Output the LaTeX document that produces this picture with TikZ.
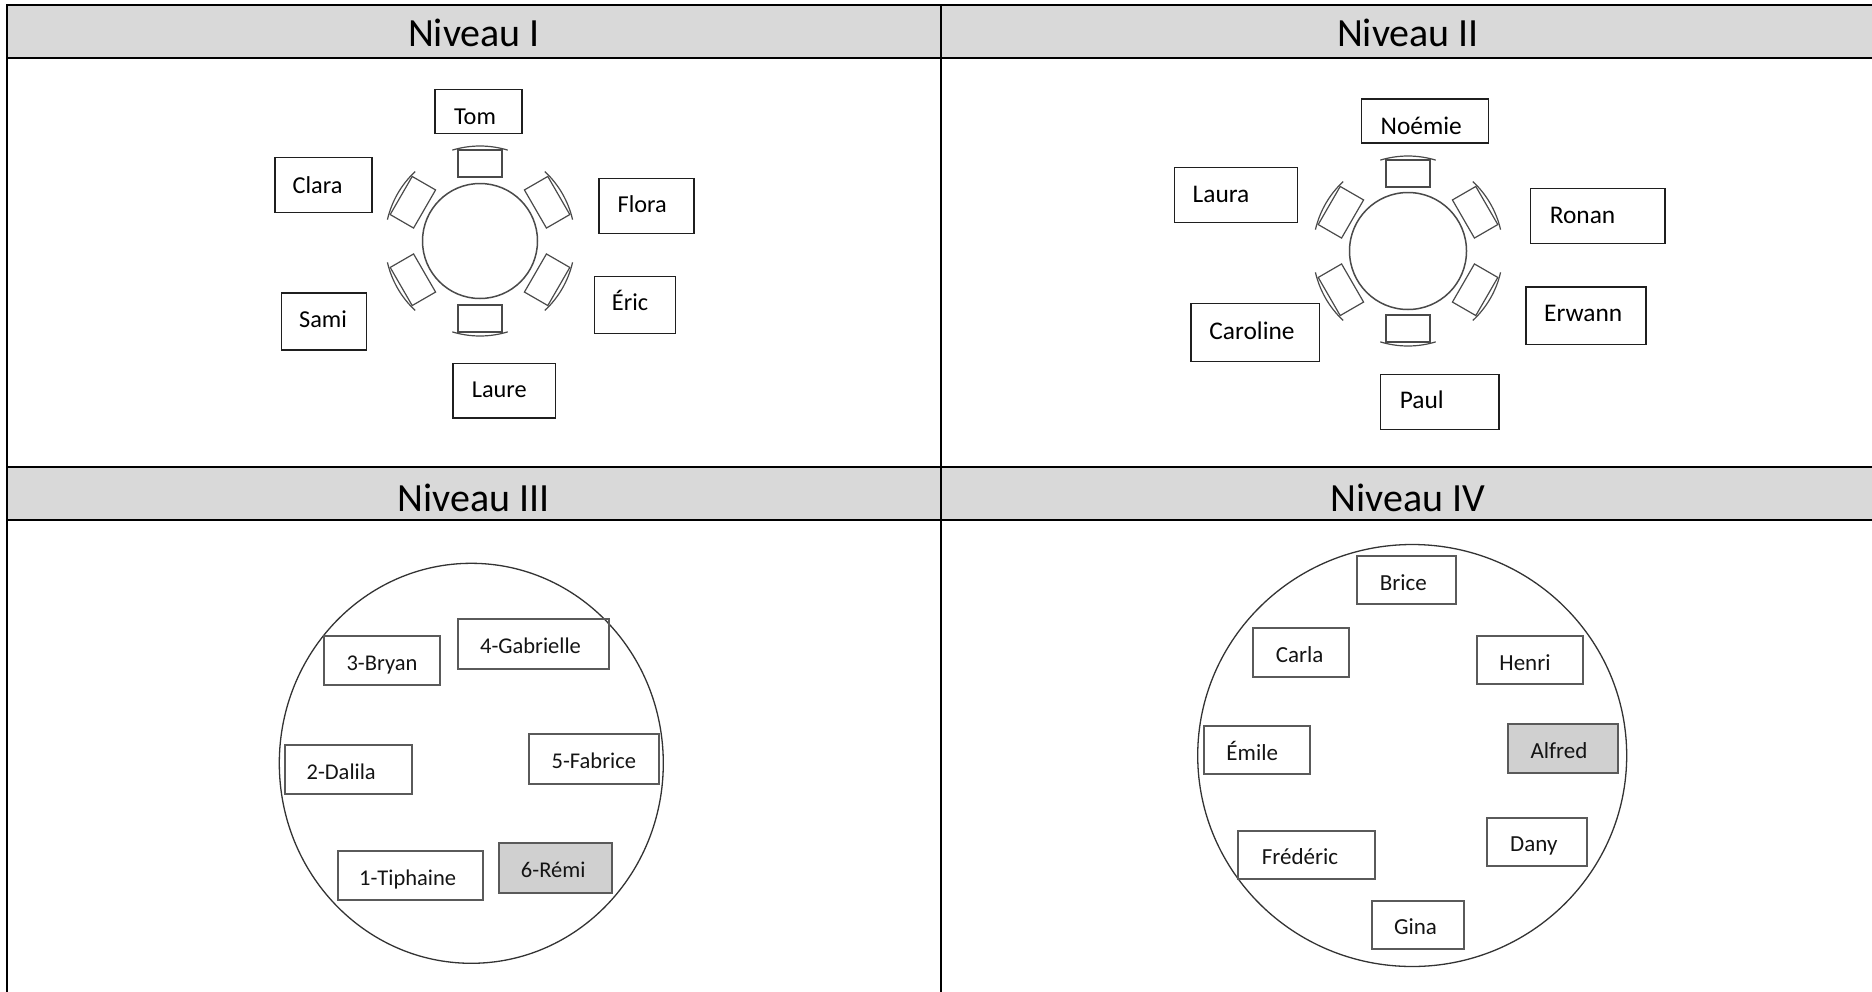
\documentclass[tikz,border=0pt]{standalone}
\usepackage{fontspec}
\setmainfont{Carlito}
\usetikzlibrary{shapes.geometric}
\definecolor{hdrgray}{HTML}{D9D9D9}
\definecolor{remgray}{HTML}{D0D0D0}
\definecolor{chairgray}{HTML}{4A4A4A}
\definecolor{boxgray}{HTML}{5A5A5A}
\tikzset{
  hdr/.style={font=\fontsize{40}{48}\selectfont, anchor=base, inner sep=0pt},
  tline/.style={line width=2pt, black},
  boxA/.style={draw=black!88, line width=1.3pt, inner sep=0pt, rectangle},
  boxB/.style={draw=boxgray, line width=1.9pt, inner sep=0pt, rectangle},
  boxhl/.style={boxB, fill=remgray},
  txtA/.style={font=\fontsize{24.3}{28}\selectfont, anchor=base, inner sep=0pt},
  txtAA/.style={font=\fontsize{25.4}{29}\selectfont, anchor=base, inner sep=0pt},
  txtB/.style={font=\fontsize{22.5}{27}\selectfont, anchor=base, inner sep=0pt, text=black!92},
  txtC/.style={font=\fontsize{23}{27}\selectfont, anchor=base, inner sep=0pt, text=black!92},
  tabletop/.style={circle, draw=chairgray, line width=1.5pt, inner sep=0pt},
  bigring/.style={draw=black!80, line width=1.3pt},
  chair/.pic={
    \draw[chairgray, line width=1.2pt] (64,-22) rectangle (91,22);
    \draw[chairgray, line width=1.2pt] (0,0) ++(-17:95) arc[start angle=-17, end angle=17, radius=95];
  }
}
\begin{document}
\begin{tikzpicture}[x=1pt, y=-1pt]
\useasboundingbox (0,0) rectangle (1872,991);
\clip (0,0) rectangle (1872,991);
% table frame
\fill[hdrgray] (7,5) rectangle (1880,58.3);
\fill[hdrgray] (7,467) rectangle (1880,520.3);
\draw[tline] (7,5) -- (1880,5);
\draw[tline] (7,58.3) -- (1880,58.3);
\draw[tline] (7,467) -- (1880,467);
\draw[tline] (7,520.3) -- (1880,520.3);
\draw[tline] (7,4) -- (7,1000);
\draw[tline] (941,4) -- (941,1000);
\node[hdr] (h1) at (474,46) {Niveau I};
\node[hdr] (h2) at (1408,46) {Niveau II};
\node[hdr] (h3) at (474,511.7) {Niveau III};
\node[hdr] (h4) at (1408,511.7) {Niveau IV};

% ---------- Niveau I ----------
\node[tabletop, minimum size=115] (tab1) at (480,241) {};
\foreach \a in {90,30,-30,-90,150,210} \pic[rotate=\a] at (tab1.center) {chair};
\node[boxA, minimum width=87, minimum height=44] (tom) at (478.5,111.3) {};
\node[txtA] (tom-t) at (475,124.3) {Tom};
\node[boxA, minimum width=97, minimum height=55] (clara) at (323.5,184.8) {};
\node[txtA] (clara-t) at (317.5,193.3) {Clara};
\node[boxA, minimum width=95, minimum height=55] (flora) at (646.5,205.8) {};
\node[txtA] (flora-t) at (642.3,212.7) {Flora};
\node[boxA, minimum width=81.4, minimum height=57] (eric) at (635,304.8) {};
\node[txtA] (eric-t) at (630,310) {Éric};
\node[boxA, minimum width=84.6, minimum height=57] (sami) at (324,321.5) {};
\node[txtA] (sami-t) at (323,327.7) {Sami};
\node[boxA, minimum width=102.7, minimum height=54.7] (laure) at (504.3,390.7) {};
\node[txtA] (laure-t) at (499.3,397.7) {Laure};

% ---------- Niveau II ----------
\node[tabletop, minimum size=117] (tab2) at (1408,251) {};
\foreach \a in {90,30,-30,-90,150,210} \pic[rotate=\a] at (tab2.center) {chair};
\node[boxA, minimum width=126.6, minimum height=44] (noemie) at (1425,121) {};
\node[txtAA] (noemie-t) at (1421.2,134) {Noémie};
\node[boxA, minimum width=123, minimum height=55] (laura) at (1235.8,194.8) {};
\node[txtAA] (laura-t) at (1221,202.7) {Laura};
\node[boxA, minimum width=134.3, minimum height=55.4] (ronan) at (1597.8,216) {};
\node[txtAA] (ronan-t) at (1582.5,223.3) {Ronan};
\node[boxA, minimum width=120, minimum height=57.3] (erwann) at (1586,315.7) {};
\node[txtAA] (erwann-t) at (1583.2,321) {Erwann};
\node[boxA, minimum width=128.3, minimum height=58] (caroline) at (1255.2,332.7) {};
\node[txtAA] (caroline-t) at (1252,339.3) {Caroline};
\node[boxA, minimum width=118.7, minimum height=55.4] (paul) at (1439.7,402) {};
\node[txtAA] (paul-t) at (1421.7,408.3) {Paul};

% ---------- Niveau III ----------
\coordinate (ring3) at (471.3,763.3);
\draw[bigring] (ring3) ellipse [x radius=192, y radius=200];
\node[boxB, minimum width=115.7, minimum height=49.6] (bryan) at (382.2,660.5) {};
\node[txtB] (bryan-t) at (382,670) {3-Bryan};
\node[boxB, minimum width=150.7, minimum height=49.4] (gabrielle) at (533.7,644) {};
\node[txtB] (gabrielle-t) at (530.5,653.3) {4-Gabrielle};
\node[boxB, minimum width=127, minimum height=49.3] (dalila) at (348.5,769.7) {};
\node[txtB] (dalila-t) at (341.2,779.3) {2-Dalila};
\node[boxB, minimum width=130, minimum height=49.7] (fabrice) at (594,759.2) {};
\node[txtB] (fabrice-t) at (593.8,768.3) {5-Fabrice};
\node[boxB, minimum width=145, minimum height=49] (tiphaine) at (410.2,875.5) {};
\node[txtB] (tiphaine-t) at (407.7,885) {1-Tiphaine};
\node[boxhl, minimum width=113, minimum height=49.4] (remi) at (555.8,868) {};
\node[txtB] (remi-t) at (553.2,877.7) {6-Rémi};

% ---------- Niveau IV ----------
\coordinate (ring4) at (1412.2,755.5);
\draw[bigring] (ring4) ellipse [x radius=214.5, y radius=211];
\node[boxB, minimum width=99.3, minimum height=48] (brice) at (1406.3,580) {};
\node[txtC] (brice-t) at (1403.3,590) {Brice};
\node[boxB, minimum width=96, minimum height=48.4] (carla) at (1301,652.5) {};
\node[txtC] (carla-t) at (1299.7,662.7) {Carla};
\node[boxB, minimum width=106.6, minimum height=48.3] (henri) at (1530,660.2) {};
\node[txtC] (henri-t) at (1525,670) {Henri};
\node[boxB, minimum width=106, minimum height=48.3] (emile) at (1256.7,750.2) {};
\node[txtC] (emile-t) at (1252.2,760) {Émile};
\node[boxhl, minimum width=110.3, minimum height=49] (alfred) at (1562.8,748.8) {};
\node[txtC] (alfred-t) at (1559,758.3) {Alfred};
\node[boxB, minimum width=136.7, minimum height=48.6] (frederic) at (1306.7,855) {};
\node[txtC] (frederic-t) at (1300,864.3) {Frédéric};
\node[boxB, minimum width=100, minimum height=48] (dany) at (1537,841.7) {};
\node[txtC] (dany-t) at (1533.8,851.7) {Dany};
\node[boxB, minimum width=92.6, minimum height=48.3] (gina) at (1418,924.8) {};
\node[txtC] (gina-t) at (1415.5,934.3) {Gina};
\end{tikzpicture}
\end{document}
